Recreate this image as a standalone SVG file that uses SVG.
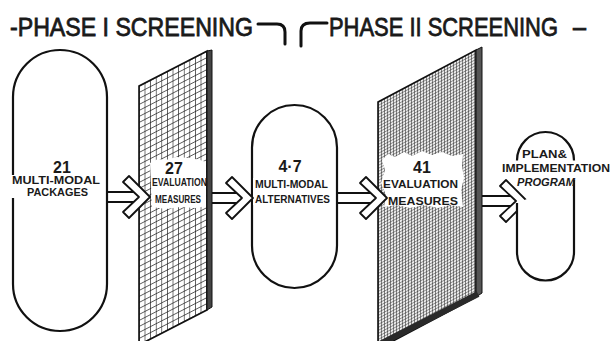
<svg xmlns="http://www.w3.org/2000/svg" xmlns:xlink="http://www.w3.org/1999/xlink" width="611" height="341" viewBox="0 0 611 341">
<style>
  .lbl { font-family: "Liberation Sans", Arial, sans-serif; font-weight: bold; fill: #1a1a1a; }
  .hdr { font-size: 22.5px; font-weight: normal; stroke: #1a1a1a; stroke-width: 0.7; }
  .num { font-size: 16px; text-anchor: middle; }
  .sm { font-size: 10px; }
  .pill { fill: #fff; stroke: #111; stroke-width: 2.2; }
  .shaft { stroke: #111; stroke-width: 2; fill: none; }
  .chev { fill: #fff; stroke: #111; stroke-width: 1.8; stroke-linejoin: round; }
  .hook { fill: none; stroke: #111; stroke-width: 3; stroke-linecap: round; }
</style>
<defs>
  <pattern id="gridA" patternUnits="userSpaceOnUse" width="5.6" height="6" patternTransform="translate(139,86) skewY(-27.2)">
    <rect width="5.6" height="6" fill="#fff"/>
    <path d="M0 0H5.6M0 0V6" stroke="#222" stroke-width="1.3"/>
  </pattern>
  <pattern id="gridB" patternUnits="userSpaceOnUse" width="3" height="3" patternTransform="translate(378,102) skewY(-28)">
    <rect width="3" height="3" fill="#ececec"/>
    <path d="M0 0H3M0 0V3" stroke="#2a2a2a" stroke-width="1"/>
  </pattern>
  <path id="chev" class="chev" d="M0,0 L-21,-21 L-27,-15 L-11,0 L-27,15 L-21,21 Z"/>
</defs>
<rect width="611" height="341" fill="#fff"/>

<g id="header">
  <g transform="translate(0,36) scale(1,1.15) translate(0,-36)">
    <text class="lbl hdr" x="10" y="36" textLength="243" lengthAdjust="spacingAndGlyphs">-PHASE I SCREENING</text>
    <text class="lbl hdr" x="329" y="36" textLength="229" lengthAdjust="spacingAndGlyphs">PHASE II SCREENING</text>
    <text class="lbl hdr" x="573" y="36" textLength="13" lengthAdjust="spacingAndGlyphs">–</text>
  </g>
  <path class="hook" d="M258,24 H277 Q285,24 285,32 V44"/>
  <path class="hook" d="M301,46 V31 Q301,23 310,23 H327"/>
</g>

<g id="packages">
  <rect class="pill" x="13" y="50" width="94" height="281" rx="47"/>
  <rect x="10" y="175" width="94" height="23" fill="#fff"/>
  <text class="lbl num" x="62" y="173" font-size="17">21</text>
  <text class="lbl sm" x="12" y="184" textLength="88" lengthAdjust="spacingAndGlyphs">MULTI-MODAL</text>
  <text class="lbl sm" x="27" y="196" textLength="61" lengthAdjust="spacingAndGlyphs">PACKAGES</text>
</g>

<g id="measures27">
  <polygon points="139,86 207,51 207,310 139,345" fill="url(#gridA)" stroke="#111" stroke-width="1.6"/>
  <polygon points="207,51 212,50 212,307 207,310" fill="#444" stroke="#111" stroke-width="1"/>
  <polygon points="150,163 158,159 166,160 176,157 190,158 200,160 206,162 206,206 196,208 180,207 166,209 152,207" fill="#fff"/>
  <text class="lbl num" x="174" y="174">27</text>
  <text class="lbl sm" x="152" y="186" font-size="9" textLength="55" lengthAdjust="spacingAndGlyphs">EVALUATION</text>
  <text class="lbl sm" x="155" y="203" font-size="9" textLength="46" lengthAdjust="spacingAndGlyphs">MEASURES</text>
</g>

<g id="alternatives">
  <rect class="pill" x="252" y="105" width="85" height="183" rx="42.5"/>
  <rect x="253" y="178" width="80" height="27" fill="#fff"/>
  <text class="lbl num" x="290" y="172" font-size="15" font-weight="normal">4·7</text>
  <text class="lbl sm" x="255" y="188" textLength="73" lengthAdjust="spacingAndGlyphs">MULTI-MODAL</text>
  <text class="lbl sm" x="255" y="203" textLength="75" lengthAdjust="spacingAndGlyphs">ALTERNATIVES</text>
</g>

<g id="measures41">
  <polygon points="378,102 476,50 476,297 378,349" fill="url(#gridB)" stroke="#111" stroke-width="1.6"/>
  <polygon points="476,50 482,47 482,293 476,297" fill="#555" stroke="#111" stroke-width="1"/>
  <path d="M378,345 L478,294" stroke="#2a2a2a" stroke-width="6" fill="none"/>
  <polygon points="382,160 388,154 395,157 404,152 412,156 422,151 432,155 442,152 452,156 463,154 462,166 464,178 461,190 463,207 450,205 438,208 424,205 410,208 396,205 384,207 386,195 381,183 385,170" fill="#fff"/>
  <text class="lbl num" x="422" y="173" font-size="16">41</text>
  <text class="lbl sm" x="383" y="188" font-size="12" textLength="75" lengthAdjust="spacingAndGlyphs">EVALUATION</text>
  <text class="lbl sm" x="388" y="205" font-size="12" textLength="70" lengthAdjust="spacingAndGlyphs">MEASURES</text>
</g>

<g id="connectors">
  <path class="shaft" d="M107,192 H134 M107,202 H134"/>
  <use xlink:href="#chev" x="150" y="197"/>
  <path class="shaft" d="M212,193 H237 M212,203 H237"/>
  <use xlink:href="#chev" x="253" y="198"/>
  <path class="shaft" d="M337,193 H371 M337,203 H371"/>
  <use xlink:href="#chev" x="387" y="198"/>
  <path class="shaft" d="M482,196 H511 M482,206 H511"/>
  <use xlink:href="#chev" x="527" y="201"/>
</g>

<g id="program">
  <path class="pill" d="M517,203 V252 A28.5,28.5 0 0 0 574,252 V180" fill="none"/>
  <path class="pill" d="M574,160 V160.5 A28.5,28.5 0 0 0 517,160.5" fill="none"/>
  <text class="lbl sm" x="522" y="158" textLength="45" lengthAdjust="spacingAndGlyphs">PLAN&amp;</text>
  <text class="lbl sm" x="502" y="172" textLength="108" lengthAdjust="spacingAndGlyphs">IMPLEMENTATION</text>
  <text class="lbl sm" x="517" y="186" font-style="italic" textLength="58" lengthAdjust="spacingAndGlyphs">PROGRAM</text>
</g>
</svg>
